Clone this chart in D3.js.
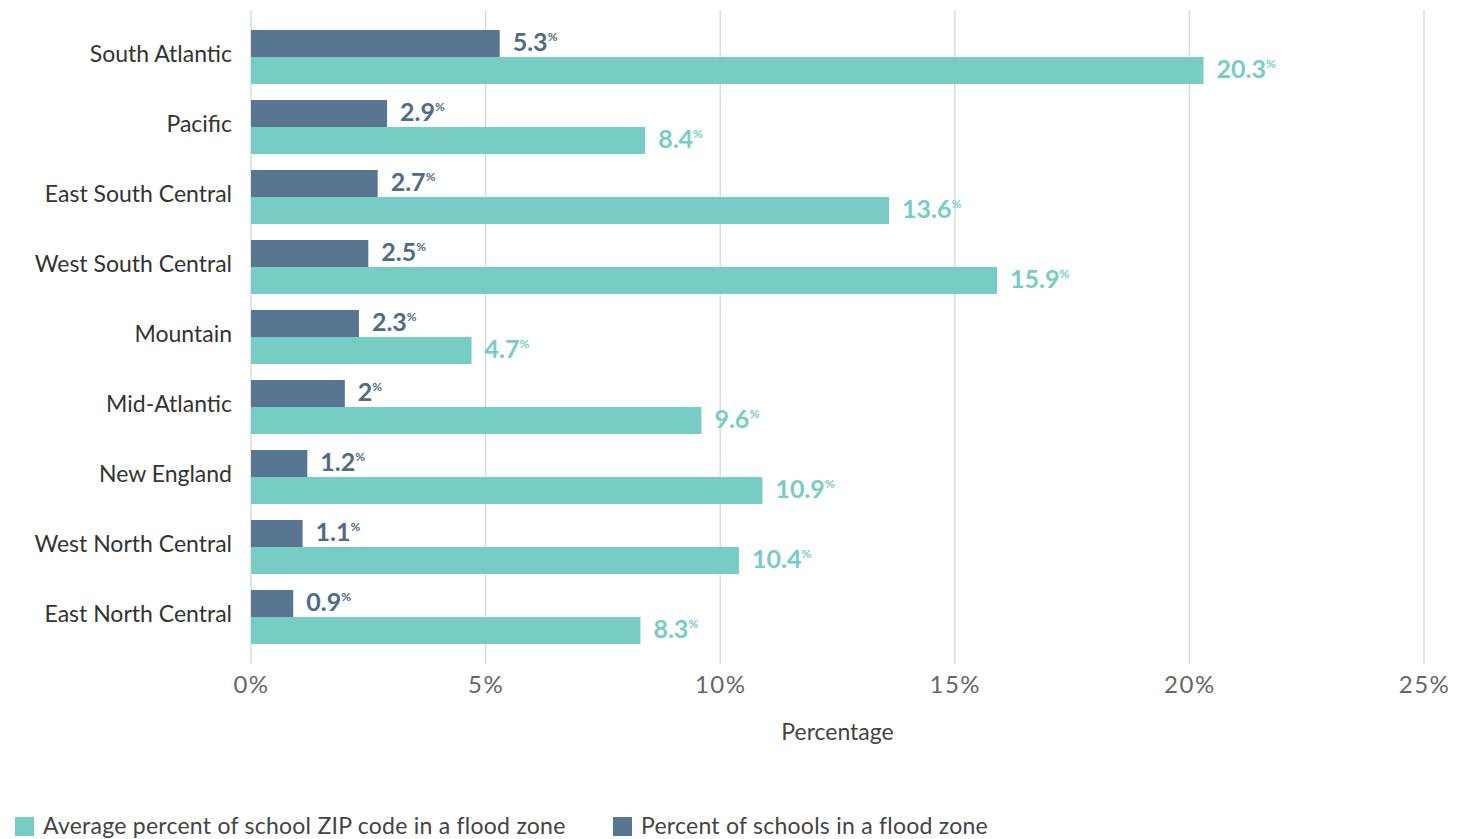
<!DOCTYPE html>
<html>
<head>
<meta charset="utf-8">
<script src="https://cdn.jsdelivr.net/npm/d3@7.9.0/dist/d3.min.js"></script>
<style>
  body { margin: 0; background: #fff; }
  svg { display: block; font-family: Lato, 'Open Sans', sans-serif; }
</style>
</head>
<body>
<div id="chart"></div>
<script>
// data
const regions = ['South Atlantic', 'Pacific', 'East South Central', 'West South Central',
    'Mountain', 'Mid-Atlantic', 'New England', 'West North Central', 'East North Central'];
const schoolsPct = [5.3, 2.9, 2.7, 2.5, 2.3, 2, 1.2, 1.1, 0.9];
const zipPct = [20.3, 8.4, 13.6, 15.9, 4.7, 9.6, 10.9, 10.4, 8.3];
const xTicks = [0, 5, 10, 15, 20, 25];
const seriesNames = ['Average percent of school ZIP code in a flood zone', 'Percent of schools in a flood zone'];

const darkColor = '#587591';
const tealColor = '#77cdc4';

const width = 1462;
const height = 839;

const svg = d3.select('#chart')
    .append('svg')
    .attr('width', width)
    .attr('height', height);

const xScale = d3.scaleLinear().domain([0, 25]).range([251, 1424]);
const yScale = d3.scaleBand().domain(regions).range([22, 652]).paddingInner(16 / 70).paddingOuter(8 / 70);

// gridlines
svg.append('g')
    .attr('class', 'gridlines')
    .selectAll('line')
    .data(xTicks)
    .join('line')
    .attr('x1', d => xScale(d))
    .attr('x2', d => xScale(d))
    .attr('y1', 10)
    .attr('y2', 664)
    .attr('stroke', '#dcdcdc')
    .attr('stroke-width', 1.5);

// x axis
const xAxis = svg.append('g')
    .attr('transform', 'translate(0, 664)')
    .call(d3.axisBottom(xScale).tickValues(xTicks).tickFormat(d => d + '%').tickSize(0).tickPadding(12));
xAxis.select('.domain').remove();
xAxis.selectAll('text')
    .attr('font-size', 24)
    .attr('letter-spacing', 1.5)
    .attr('fill', '#666')
    .attr('font-family', 'Lato, sans-serif');

svg.append('text')
    .attr('x', (xScale(0) + xScale(25)) / 2)
    .attr('y', 740)
    .attr('text-anchor', 'middle')
    .attr('font-size', 23)
    .attr('fill', '#444')
    .text('Percentage');

// y labels
svg.append('g')
    .selectAll('text')
    .data(regions)
    .join('text')
    .attr('x', 232)
    .attr('y', d => yScale(d) + yScale.bandwidth() / 2 + 5)
    .attr('text-anchor', 'end')
    .attr('font-size', 23)
    .attr('fill', '#333')
    .text(d => d);

const half = () => yScale.bandwidth() / 2;

// bars
const rows = regions.map((r, i) => ({ region: r, schools: schoolsPct[i], zip: zipPct[i] }));

svg.append('g').selectAll('rect')
    .data(rows)
    .join('rect')
    .attr('x', xScale(0))
    .attr('y', d => yScale(d.region))
    .attr('width', d => xScale(d.schools) - xScale(0))
    .attr('height', half())
    .attr('fill', darkColor);

svg.append('g').selectAll('rect')
    .data(rows)
    .join('rect')
    .attr('x', xScale(0))
    .attr('y', d => yScale(d.region) + half())
    .attr('width', d => xScale(d.zip) - xScale(0))
    .attr('height', half())
    .attr('fill', tealColor);

// value labels
function addLabels(key, color, offset) {
    const t = svg.append('g').selectAll('text')
        .data(rows)
        .join('text')
        .attr('x', d => xScale(d[key]) + 13)
        .attr('y', d => yScale(d.region) + offset)
        .attr('font-size', 25)
        .attr('font-weight', 'bold')
        .attr('fill', color);
    t.append('tspan').text(d => d[key]);
    t.append('tspan')
        .attr('font-size', 12)
        .attr('dy', -10)
        .text('%');
}
addLabels('schools', '#4f6b88', 21);
addLabels('zip', tealColor, half() + 21);

// legend
const legend = svg.append('g').attr('transform', 'translate(0, 816)');
const legendItems = [
    { name: seriesNames[0], color: tealColor, x: 15 },
    { name: seriesNames[1], color: darkColor, x: 613 }
];
legendItems.forEach(item => {
    legend.append('rect')
        .attr('x', item.x)
        .attr('y', 1)
        .attr('width', 19)
        .attr('height', 19)
        .attr('fill', item.color);
    legend.append('text')
        .attr('x', item.x + 28)
        .attr('y', 18)
        .attr('font-size', 23)
        .attr('letter-spacing', 0.25)
        .attr('fill', '#444')
        .text(item.name);
});
</script>
</body>
</html>
